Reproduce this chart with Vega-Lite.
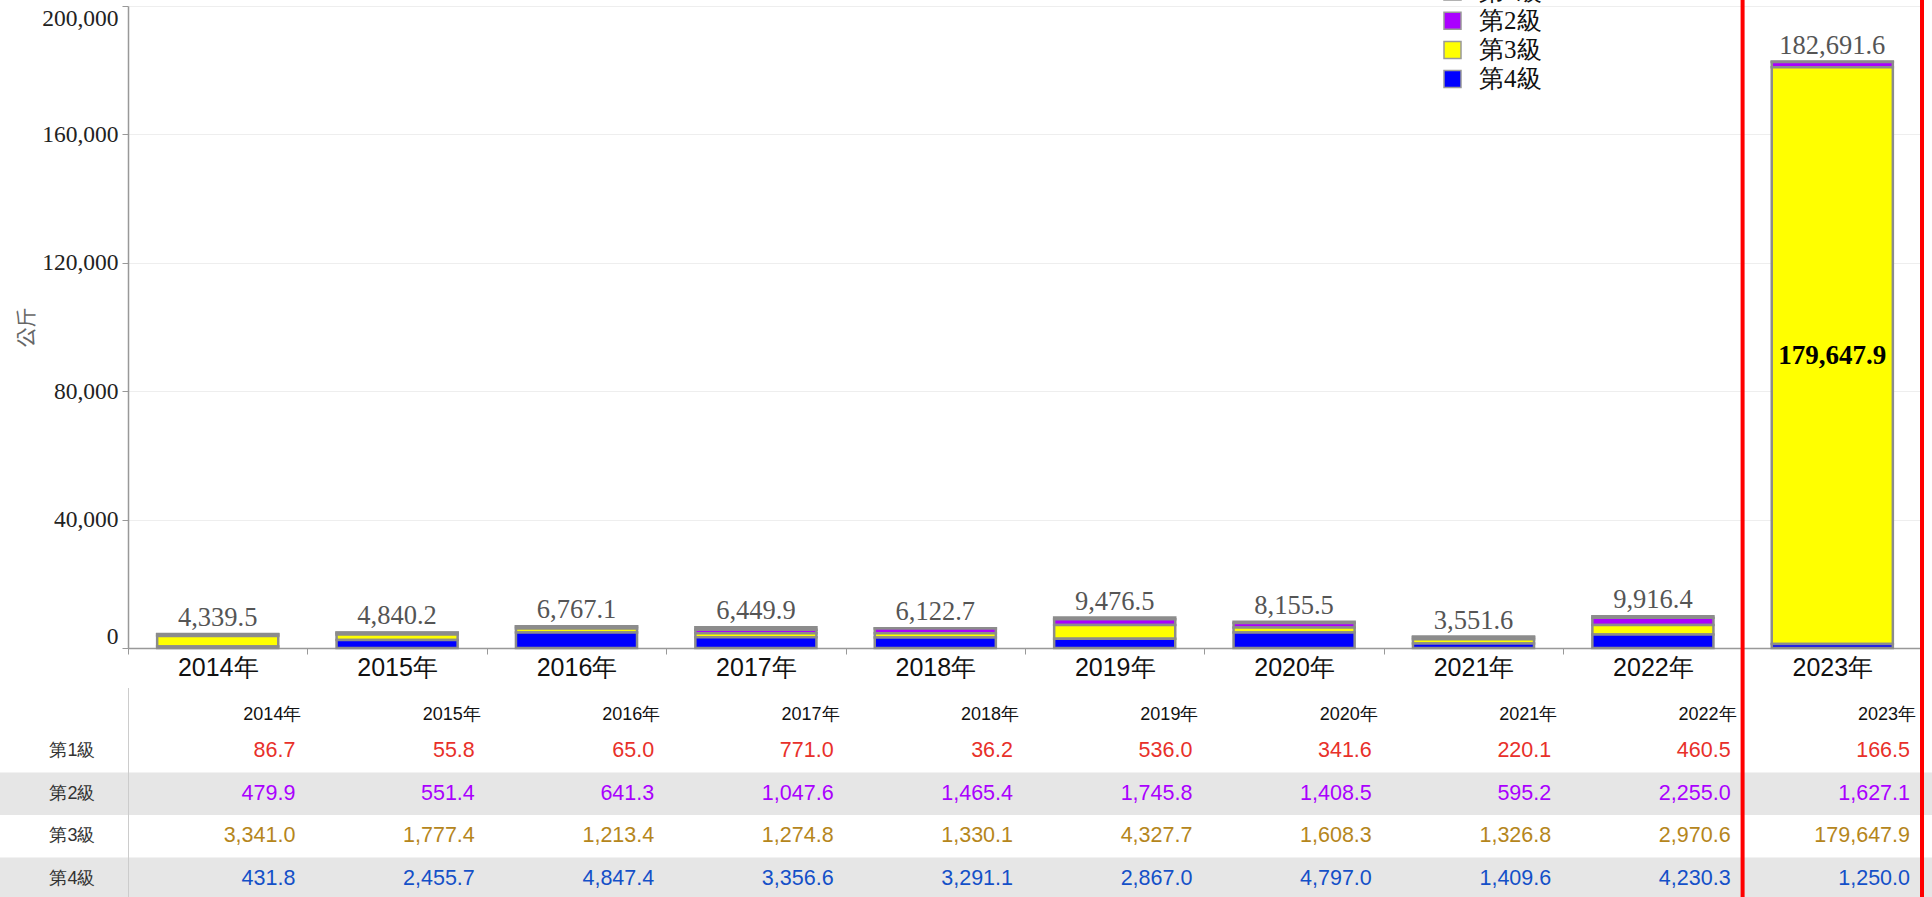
{
  "$schema": "https://vega.github.io/schema/vega-lite/v6.json",
  "width": 1932,
  "height": 897,
  "autosize": {"type": "none"},
  "padding": 0,
  "background": "white",
  "config": {"view": {"stroke": null}},
  "datasets": {
    "levels": [
      {"year": "2014年", "level": "第1級", "value": 86.7},
      {"year": "2014年", "level": "第2級", "value": 479.9},
      {"year": "2014年", "level": "第3級", "value": 3341.0},
      {"year": "2014年", "level": "第4級", "value": 431.8},
      {"year": "2015年", "level": "第1級", "value": 55.8},
      {"year": "2015年", "level": "第2級", "value": 551.4},
      {"year": "2015年", "level": "第3級", "value": 1777.4},
      {"year": "2015年", "level": "第4級", "value": 2455.7},
      {"year": "2016年", "level": "第1級", "value": 65.0},
      {"year": "2016年", "level": "第2級", "value": 641.3},
      {"year": "2016年", "level": "第3級", "value": 1213.4},
      {"year": "2016年", "level": "第4級", "value": 4847.4},
      {"year": "2017年", "level": "第1級", "value": 771.0},
      {"year": "2017年", "level": "第2級", "value": 1047.6},
      {"year": "2017年", "level": "第3級", "value": 1274.8},
      {"year": "2017年", "level": "第4級", "value": 3356.6},
      {"year": "2018年", "level": "第1級", "value": 36.2},
      {"year": "2018年", "level": "第2級", "value": 1465.4},
      {"year": "2018年", "level": "第3級", "value": 1330.1},
      {"year": "2018年", "level": "第4級", "value": 3291.1},
      {"year": "2019年", "level": "第1級", "value": 536.0},
      {"year": "2019年", "level": "第2級", "value": 1745.8},
      {"year": "2019年", "level": "第3級", "value": 4327.7},
      {"year": "2019年", "level": "第4級", "value": 2867.0},
      {"year": "2020年", "level": "第1級", "value": 341.6},
      {"year": "2020年", "level": "第2級", "value": 1408.5},
      {"year": "2020年", "level": "第3級", "value": 1608.3},
      {"year": "2020年", "level": "第4級", "value": 4797.0},
      {"year": "2021年", "level": "第1級", "value": 220.1},
      {"year": "2021年", "level": "第2級", "value": 595.2},
      {"year": "2021年", "level": "第3級", "value": 1326.8},
      {"year": "2021年", "level": "第4級", "value": 1409.6},
      {"year": "2022年", "level": "第1級", "value": 460.5},
      {"year": "2022年", "level": "第2級", "value": 2255.0},
      {"year": "2022年", "level": "第3級", "value": 2970.6},
      {"year": "2022年", "level": "第4級", "value": 4230.3},
      {"year": "2023年", "level": "第1級", "value": 166.5},
      {"year": "2023年", "level": "第2級", "value": 1627.1},
      {"year": "2023年", "level": "第3級", "value": 179647.9},
      {"year": "2023年", "level": "第4級", "value": 1250.0}
    ],
    "totals": [
      {"year": "2014年", "total": 4339.5},
      {"year": "2015年", "total": 4840.2},
      {"year": "2016年", "total": 6767.1},
      {"year": "2017年", "total": 6449.9},
      {"year": "2018年", "total": 6122.7},
      {"year": "2019年", "total": 9476.5},
      {"year": "2020年", "total": 8155.5},
      {"year": "2021年", "total": 3551.6},
      {"year": "2022年", "total": 9916.4},
      {"year": "2023年", "total": 182691.6}
    ],
    "stripes": [{"level": "第2級"}, {"level": "第4級"}],
    "highlight": [{"year": "2023年"}]
  },
  "layer": [
    {
      "layer": [
        {
          "data": {"name": "stripes"},
          "mark": {"type": "rect", "color": "#e6e6e6"},
          "encoding": {
            "y": {"field": "level", "type": "nominal",
              "scale": {"type": "band", "domain": ["hdr", "第1級", "第2級", "第3級", "第4級"], "range": [687.5, 900], "paddingInner": 0, "paddingOuter": 0},
              "axis": {"orient": "left", "offset": -128, "title": null, "ticks": false, "tickSize": 0, "labelPadding": 33, "labelFont": "Liberation Sans", "labelFontSize": 18, "labelColor": "#333333", "domainColor": "#cccccc", "domainWidth": 1, "grid": false, "labelExpr": "datum.value == 'hdr' ? '' : datum.value"}}
          }
        },
        {
          "data": {"name": "totals"},
          "mark": {"type": "text", "align": "right", "baseline": "middle", "dx": -6, "dy": 6, "font": "Liberation Sans", "fontSize": 18, "color": "#111111"},
          "encoding": {
            "x": {"field": "year", "type": "nominal", "bandPosition": 1, "title": null,
              "scale": {"type": "band", "domain": ["2014年", "2015年", "2016年", "2017年", "2018年", "2019年", "2020年", "2021年", "2022年", "2023年"], "range": [128, 1922], "paddingInner": 0, "paddingOuter": 0}},
            "y": {"datum": "hdr", "type": "nominal",
              "scale": {"type": "band", "domain": ["hdr", "第1級", "第2級", "第3級", "第4級"], "range": [687.5, 900], "paddingInner": 0, "paddingOuter": 0},
              "axis": {"orient": "left", "offset": -128, "title": null, "ticks": false, "tickSize": 0, "labelPadding": 33, "labelFont": "Liberation Sans", "labelFontSize": 18, "labelColor": "#333333", "domainColor": "#cccccc", "domainWidth": 1, "grid": false, "labelExpr": "datum.value == 'hdr' ? '' : datum.value"}},
            "text": {"field": "year", "type": "nominal"}
          }
        },
        {
          "data": {"name": "levels"},
          "mark": {"type": "text", "align": "right", "baseline": "middle", "dx": -12, "font": "Liberation Sans", "fontSize": 21.5},
          "encoding": {
            "x": {"field": "year", "type": "nominal", "bandPosition": 1, "title": null,
              "scale": {"type": "band", "domain": ["2014年", "2015年", "2016年", "2017年", "2018年", "2019年", "2020年", "2021年", "2022年", "2023年"], "range": [128, 1922], "paddingInner": 0, "paddingOuter": 0}},
            "y": {"field": "level", "type": "nominal",
              "scale": {"type": "band", "domain": ["hdr", "第1級", "第2級", "第3級", "第4級"], "range": [687.5, 900], "paddingInner": 0, "paddingOuter": 0},
              "axis": {"orient": "left", "offset": -128, "title": null, "ticks": false, "tickSize": 0, "labelPadding": 33, "labelFont": "Liberation Sans", "labelFontSize": 18, "labelColor": "#333333", "domainColor": "#cccccc", "domainWidth": 1, "grid": false, "labelExpr": "datum.value == 'hdr' ? '' : datum.value"}},
            "text": {"field": "value", "type": "quantitative", "format": ",.1f"},
            "color": {"field": "level", "type": "nominal",
              "scale": {"domain": ["第1級", "第2級", "第3級", "第4級"], "range": ["#e8302a", "#aa00ff", "#b5861c", "#1450c8"]},
              "legend": null}
          }
        }
      ]
    },
    {
      "layer": [
        {
          "data": {"name": "levels"},
          "mark": {"type": "bar", "width": {"band": 0.675}, "stroke": "#8c8c8c", "strokeWidth": 2.5},
          "encoding": {
            "x": {"field": "year", "type": "nominal", "title": null,
              "scale": {"type": "band", "domain": ["2014年", "2015年", "2016年", "2017年", "2018年", "2019年", "2020年", "2021年", "2022年", "2023年"], "range": [128, 1922], "paddingInner": 0, "paddingOuter": 0},
              "axis": {"orient": "bottom", "offset": -249, "title": null, "labelFont": "Liberation Sans", "labelFontSize": 25, "labelColor": "#111111", "labelAngle": 0, "labelAlign": "center", "labelBaseline": "top", "bandPosition": 0.5, "tickBand": "extent", "tickSize": 6, "tickColor": "#999999", "domainColor": "#999999", "domainWidth": 1.5, "labelPadding": 1, "grid": false}},
            "y": {"field": "value", "type": "quantitative", "stack": "zero", "title": "公斤",
              "scale": {"domain": [0, 200000], "range": [648, 6], "nice": false, "zero": true},
              "axis": {"orient": "left", "offset": -128, "title": "公斤", "values": [0, 40000, 80000, 120000, 160000, 200000], "format": ",d", "labelFont": "Liberation Serif", "labelFontSize": 23.5, "labelColor": "#222222", "labelFlush": true, "labelPadding": 4, "tickSize": 6, "tickColor": "#999999", "domainColor": "#999999", "domainWidth": 1.5, "grid": true, "gridColor": "#eeeeee", "titleFont": "Noto Sans CJK TC", "titleFontSize": 20, "titleFontWeight": "normal", "titleColor": "#666666", "titlePadding": 4}},
            "color": {"field": "level", "type": "nominal",
              "scale": {"domain": ["第1級", "第2級", "第3級", "第4級"], "range": ["#ff0000", "#aa00ff", "#ffff00", "#0000ff"]},
              "legend": {"orient": "none", "legendX": 1440, "legendY": -21, "title": null, "padding": 0, "symbolType": "square", "symbolSize": 289, "symbolStrokeColor": "#999999", "symbolStrokeWidth": 1.5, "labelFont": "Liberation Serif", "labelFontSize": 25, "labelColor": "#111111", "labelOffset": 14, "rowPadding": 3.2}},
            "order": {"field": "level", "sort": "descending"}
          }
        },
        {
          "data": {"name": "totals"},
          "mark": {"type": "text", "baseline": "alphabetic", "dy": -8, "font": "Liberation Serif", "fontSize": 26.5, "color": "#555555"},
          "encoding": {
            "x": {"field": "year", "type": "nominal", "title": null,
              "scale": {"type": "band", "domain": ["2014年", "2015年", "2016年", "2017年", "2018年", "2019年", "2020年", "2021年", "2022年", "2023年"], "range": [128, 1922], "paddingInner": 0, "paddingOuter": 0}},
            "y": {"field": "total", "type": "quantitative", "title": "公斤",
              "scale": {"domain": [0, 200000], "range": [648, 6], "nice": false, "zero": true}},
            "text": {"field": "total", "type": "quantitative", "format": ",.1f"}
          }
        },
        {
          "data": {"name": "levels"},
          "transform": [
            {"stack": "value", "groupby": ["year"], "sort": [{"field": "level", "order": "descending"}], "as": ["v0", "v1"]},
            {"filter": "datum.value > 100000"},
            {"fold": ["v0", "v1"], "as": ["edge", "pos"]}
          ],
          "mark": {"type": "text", "baseline": "middle", "font": "Liberation Serif", "fontSize": 27, "fontWeight": "bold", "color": "#000000"},
          "encoding": {
            "x": {"field": "year", "type": "nominal", "title": null,
              "scale": {"type": "band", "domain": ["2014年", "2015年", "2016年", "2017年", "2018年", "2019年", "2020年", "2021年", "2022年", "2023年"], "range": [128, 1922], "paddingInner": 0, "paddingOuter": 0}},
            "y": {"aggregate": "mean", "field": "pos", "type": "quantitative", "title": "公斤",
              "scale": {"domain": [0, 200000], "range": [648, 6], "nice": false, "zero": true}},
            "text": {"aggregate": "max", "field": "value", "type": "quantitative", "format": ",.1f"}
          }
        }
      ]
    },
    {
      "data": {"name": "highlight"},
      "mark": {"type": "rule", "color": "#ff0000", "strokeWidth": 4},
      "encoding": {
        "x": {"field": "year", "type": "nominal", "bandPosition": 0, "title": null,
          "scale": {"type": "band", "domain": ["2014年", "2015年", "2016年", "2017年", "2018年", "2019年", "2020年", "2021年", "2022年", "2023年"], "range": [128, 1922], "paddingInner": 0, "paddingOuter": 0}}
      }
    },
    {
      "data": {"name": "highlight"},
      "mark": {"type": "rule", "color": "#ff0000", "strokeWidth": 4},
      "encoding": {
        "x": {"field": "year", "type": "nominal", "bandPosition": 1, "title": null,
          "scale": {"type": "band", "domain": ["2014年", "2015年", "2016年", "2017年", "2018年", "2019年", "2020年", "2021年", "2022年", "2023年"], "range": [128, 1922], "paddingInner": 0, "paddingOuter": 0}}
      }
    }
  ],
  "resolve": {"scale": {"y": "independent", "color": "independent"}}
}
